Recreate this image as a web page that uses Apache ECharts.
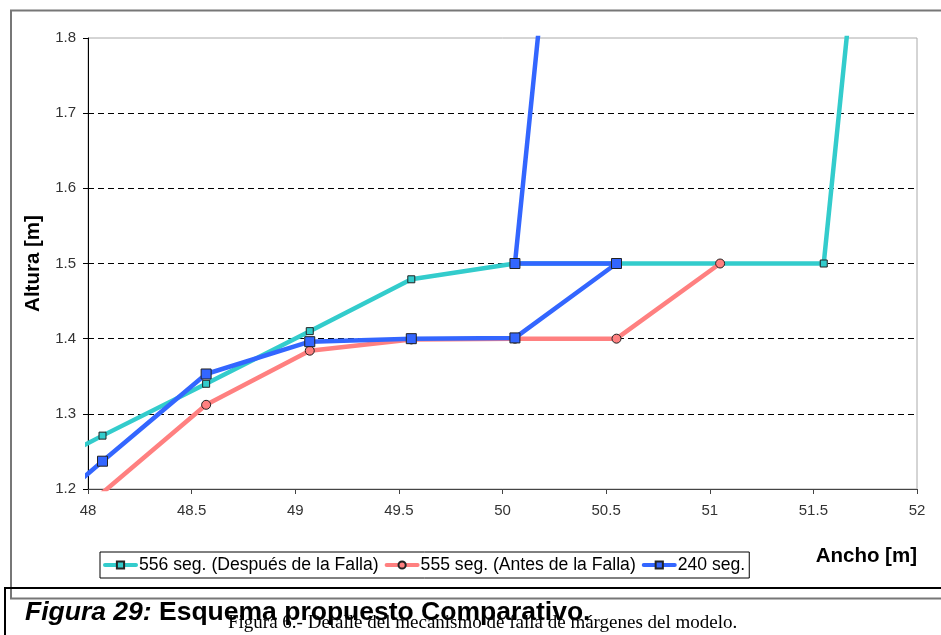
<!DOCTYPE html>
<html>
<head>
<meta charset="utf-8">
<script src="https://cdn.jsdelivr.net/npm/echarts@6/dist/echarts.min.js"></script>
<style>
html,body{margin:0;padding:0;background:#fff;}
#chart{width:941px;height:635px;}
</style>
</head>
<body>
<div id="chart"></div>
<script>
// ---- data ----
const seriesNames = ['556 seg. (Después de la Falla)', '555 seg. (Antes de la Falla)', '240 seg.'];
const s556X = [47.58, 48.07, 48.57, 49.07, 49.56, 50.06, 51.55, 51.69];
const s556Y = [1.200, 1.271, 1.340, 1.410, 1.479, 1.500, 1.500, 1.880];
const s555X = [48.07, 48.57, 49.07, 49.56, 50.06, 50.55, 51.05];
const s555Y = [1.195, 1.312, 1.384, 1.399, 1.400, 1.400, 1.500];
const s240X = [47.58, 48.07, 48.57, 49.07, 49.56, 50.06, 50.55, 50.06, 50.20];
const s240Y = [1.120, 1.237, 1.353, 1.396, 1.400, 1.401, 1.500, 1.500, 1.880];
const xTicks = {min: 48, max: 52, step: 0.5};
const yTicks = {min: 1.2, max: 1.8, step: 0.1};
const xTitle = 'Ancho [m]';
const yTitle = 'Altura [m]';
const captionBold = 'Figura 29:';
const captionRest = ' Esquema propuesto Comparativo.';
const captionBehind = 'Figura 6.- Detalle del mecanismo de falla de márgenes del modelo.';

function zip(xs, ys) { return xs.map((x, i) => [x, ys[i]]); }

const FONT = 'Liberation Sans, Arial, sans-serif';
const chart = echarts.init(document.getElementById('chart'), null, {renderer: 'canvas'});

function lineSeries(name, data, color, symbol, size) {
  return {
    name: name, type: 'line', data: data, clip: true,
    symbol: symbol, symbolSize: size, showAllSymbol: true,
    lineStyle: {color: color, width: 4.5, cap: 'round', join: 'round'},
    itemStyle: {color: color, borderColor: '#222', borderWidth: 1},
    emphasis: {disabled: true},
    animation: false
  };
}

chart.setOption({
  backgroundColor: '#fff',
  animation: false,
  grid: {left: 88, right: 24, top: 38, bottom: 146, show: true, borderColor: '#aaa', borderWidth: 1, backgroundColor: 'transparent'},
  xAxis: {
    type: 'value', min: xTicks.min, max: xTicks.max, interval: xTicks.step,
    name: xTitle, nameLocation: 'end', nameGap: 0,
    nameTextStyle: {fontFamily: FONT, fontSize: 20.5, fontWeight: 'bold', color: '#000', align: 'right', verticalAlign: 'top', padding: [57, 0, 0, 0]},
    axisLine: {show: true, onZero: false, lineStyle: {color: '#444', width: 1}},
    axisTick: {show: true, inside: false, length: 5, lineStyle: {color: '#444'}},
    axisLabel: {fontFamily: FONT, fontSize: 15, color: '#333', margin: 14},
    splitLine: {show: false}
  },
  yAxis: {
    type: 'value', min: yTicks.min, max: yTicks.max, interval: yTicks.step,
    name: yTitle, nameLocation: 'middle', nameGap: 43, nameRotate: 90,
    nameTextStyle: {fontFamily: FONT, fontSize: 20.5, fontWeight: 'bold', color: '#000'},
    axisLine: {show: true, onZero: false, lineStyle: {color: '#000', width: 1}},
    axisTick: {show: true, inside: false, length: 5, lineStyle: {color: '#000'}},
    axisLabel: {fontFamily: FONT, fontSize: 15, color: '#333', margin: 12, formatter: v => v.toFixed(1)},
    splitLine: {show: true, showMinLine: false, showMaxLine: false, lineStyle: {color: '#000', width: 1, type: [6, 4]}}
  },
  legend: {
    data: seriesNames,
    left: 100, top: 552,
    orient: 'horizontal',
    itemWidth: 31, itemHeight: 9, itemGap: 6,
    padding: [4, 4, 4, 3],
    borderColor: '#000', borderWidth: 1, backgroundColor: '#fff',
    lineStyle: {width: 4},
    textStyle: {fontFamily: FONT, fontSize: 17.6, color: '#000', padding: [0, 0, 0, -2]},
    selectedMode: false
  },
  series: [
    lineSeries(seriesNames[0], zip(s556X, s556Y), '#33CCCC', 'rect', 7),
    lineSeries(seriesNames[1], zip(s555X, s555Y), '#FF8080', 'circle', 9),
    lineSeries(seriesNames[2], zip(s240X, s240Y), '#3366FF', 'rect', 10)
  ],
  graphic: [
    {type: 'rect', silent: true, z: 100, shape: {x: 11, y: 10.5, width: 960, height: 588}, style: {fill: null, stroke: '#777', lineWidth: 2}},
    {type: 'line', silent: true, z: 100, shape: {x1: 4, y1: 588, x2: 941, y2: 588}, style: {stroke: '#000', lineWidth: 2}},
    {type: 'line', silent: true, z: 100, shape: {x1: 5, y1: 587, x2: 5, y2: 635}, style: {stroke: '#000', lineWidth: 2}},
    {type: 'text', silent: true, z: 100, x: 228, y: 623,
      style: {text: captionBehind, font: '19px "Liberation Serif", "Times New Roman", serif', fill: '#000', verticalAlign: 'middle'}},
    {type: 'text', silent: true, z: 101, x: 25, y: 613,
      style: {
        text: '{a|' + captionBold + '}{b|' + captionRest + '}',
        verticalAlign: 'middle',
        rich: {
          a: {fontFamily: FONT, fontSize: 26.5, fontWeight: 'bold', fontStyle: 'italic', fill: '#000'},
          b: {fontFamily: FONT, fontSize: 26.5, fontWeight: 'bold', fill: '#000'}
        }
      }}
  ]
});
</script>
</body>
</html>
